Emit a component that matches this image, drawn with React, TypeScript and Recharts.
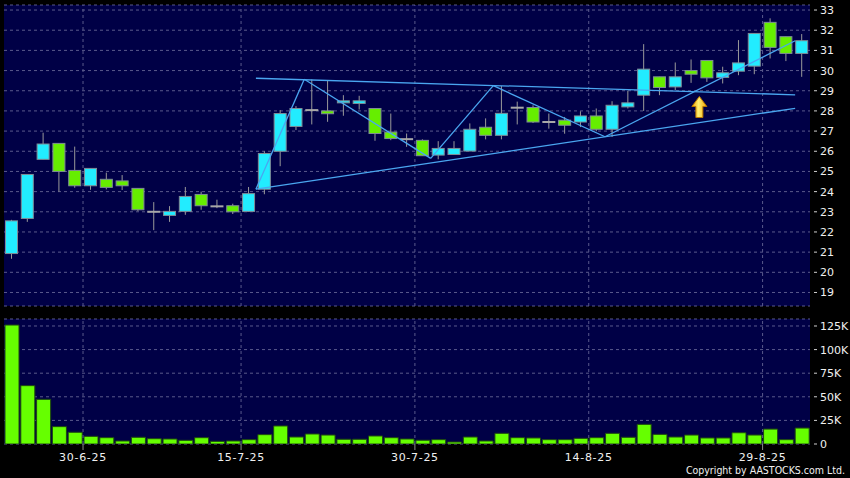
import React from "react";
import {
  ComposedChart,
  Bar,
  XAxis,
  YAxis,
  CartesianGrid,
  ReferenceLine,
  ReferenceDot,
} from "recharts";

// trading days 23-6-25 .. 2-9-25
const dates = [
  "23-6-25", "24-6-25", "25-6-25", "26-6-25", "27-6-25", "30-6-25", "2-7-25", "3-7-25", "4-7-25", "7-7-25",
  "8-7-25", "9-7-25", "10-7-25", "11-7-25", "14-7-25", "15-7-25", "16-7-25", "17-7-25", "18-7-25", "21-7-25",
  "22-7-25", "23-7-25", "24-7-25", "25-7-25", "28-7-25", "29-7-25", "30-7-25", "31-7-25", "1-8-25", "4-8-25",
  "5-8-25", "6-8-25", "7-8-25", "8-8-25", "11-8-25", "12-8-25", "13-8-25", "14-8-25", "15-8-25", "18-8-25",
  "19-8-25", "20-8-25", "21-8-25", "22-8-25", "25-8-25", "26-8-25", "27-8-25", "28-8-25", "29-8-25", "1-9-25",
  "2-9-25",
];

const opens = [
  20.93, 22.67, 25.6, 26.39, 25.05, 24.29, 24.61, 24.53, 24.16, 23.0,
  22.82, 23.02, 23.86, 23.27, 23.3, 23.02, 24.12, 26.0, 27.23, 28.04,
  28.0, 28.4, 28.37, 28.12, 26.95, 26.6, 26.54, 25.81, 25.84, 26.01,
  27.19, 26.79, 28.16, 28.17, 27.45, 27.54, 27.45, 27.75, 27.09, 28.2,
  28.78, 29.69, 29.19, 30.0, 30.5, 29.66, 29.97, 30.22, 32.39, 31.68,
  30.85,
];
const highs = [
  22.6, 24.85, 26.92, 26.4, 26.23, 25.15, 24.94, 24.82, 24.16, 23.48,
  23.28, 24.23, 24.0, 23.6, 23.4, 24.23, 26.0, 28.04, 28.24, 29.56,
  29.5, 28.78, 28.75, 28.12, 27.87, 26.88, 26.59, 26.5, 26.5, 27.38,
  27.63, 29.24, 28.46, 28.28, 27.87, 27.7, 27.98, 28.12, 28.48, 29.0,
  31.31, 29.69, 30.4, 30.55, 30.5, 30.19, 31.51, 31.84, 32.59, 31.68,
  31.81,
];
const lows = [
  20.67, 22.5, 25.6, 24.0, 24.19, 24.09, 24.11, 24.08, 23.03, 22.09,
  22.5, 22.85, 23.1, 23.18, 22.89, 23.0, 23.87, 25.26, 27.05, 27.33,
  27.46, 27.76, 28.07, 26.52, 26.55, 26.22, 25.78, 25.6, 25.84, 26.01,
  26.59, 26.59, 27.33, 27.4, 27.12, 26.87, 27.2, 26.99, 26.71, 28.12,
  28.0, 28.78, 29.03, 29.39, 29.44, 29.36, 29.77, 29.82, 30.6, 30.47,
  29.69,
];
const closes = [
  22.55, 24.85, 26.36, 25.0, 24.29, 25.15, 24.21, 24.29, 23.1, 23.0,
  23.02, 23.76, 23.3, 23.27, 23.0, 23.9, 25.89, 27.87, 28.12, 28.04,
  27.86, 28.5, 28.5, 26.88, 26.63, 26.6, 25.78, 26.14, 26.14, 27.09,
  26.79, 27.88, 28.16, 27.45, 27.45, 27.29, 27.75, 27.09, 28.28, 28.4,
  30.07, 29.16, 29.69, 29.82, 29.64, 29.89, 30.38, 31.84, 31.15, 30.85,
  31.48,
];
const volumes = [
  126000, 61800, 47300, 18400, 12400, 8100, 6700, 3200, 7100, 5600,
  5300, 3900, 6700, 2800, 3200, 4600, 9900, 19100, 7400, 10600,
  9500, 5000, 5000, 8500, 6700, 5300, 4000, 4600, 2100, 7400,
  3200, 11300, 6700, 6400, 4600, 4600, 6000, 6700, 11300, 7100,
  20800, 10200, 7400, 9500, 6400, 6400, 11900, 9500, 15800, 4600,
  16900,
];

// dates shown on the axis (grid sits on the left edge of that day's slot)
const labelDates = ["30-6-25", "15-7-25", "30-7-25", "14-8-25", "29-8-25"];
const priceTicks = [19, 20, 21, 22, 23, 24, 25, 26, 27, 28, 29, 30, 31, 32, 33];
const volumeTicks = [0, 25000, 50000, 75000, 100000, 125000];

// hand-drawn trend lines: [idx, price] pairs
const topLine = [[15.44, 29.62], [49.56, 28.8]];
const baseLine = [[15.44, 24.12], [49.56, 28.13]];
const zigzag = [
  [15.44, 24.12], [18.5, 29.57], [26.5, 25.65], [30.46, 29.25], [37.53, 26.72], [49.56, 31.48],
];
const arrowAt = { idx: 43.5, price: 28.17 };

const rows = dates.map((date, i) => ({
  idx: i,
  date,
  open: opens[i],
  high: highs[i],
  low: lows[i],
  close: closes[i],
  volume: volumes[i],
}));

const dateTicks = labelDates.map((d) => dates.indexOf(d) - 0.5);

const NAVY = "#000046";
const GRID = "#5a5a8c";
const FONT = "'DejaVu Sans', Verdana, sans-serif";
const LINE = "#4aa6f0";

function Candle(props: any) {
  const { x, y, width, height, payload } = props;
  const { open, close, high, low } = payload;
  const top = Math.min(y, y + height);
  const span = Math.abs(height);
  const per = high === low ? 0 : span / (high - low);
  const py = (v: number) => top + (high - v) * per;
  const cx = x + width / 2;
  const bodyTop = py(Math.max(open, close));
  const bodyBot = py(Math.min(open, close));
  const flat = open === close;
  const fill = close > open ? "#22ecff" : "#66ee00";
  return (
    <g>
      <line x1={cx} x2={cx} y1={py(high)} y2={py(low)} stroke="#9a9a9a" strokeWidth={1} />
      {flat ? (
        <line x1={x} x2={x + width} y1={bodyTop} y2={bodyTop} stroke="#a8a8a8" strokeWidth={2} />
      ) : (
        <rect
          x={x + 0.5}
          y={bodyTop}
          width={width - 1}
          height={Math.max(bodyBot - bodyTop, 1.5)}
          fill={fill}
          stroke="#7f8c96"
          strokeWidth={1}
        />
      )}
    </g>
  );
}

function Arrow({ cx, cy }: any) {
  if (cx == null || cy == null) return null;
  const pts = [
    [cx, cy - 11],
    [cx + 7.5, cy - 1],
    [cx + 3.5, cy - 1],
    [cx + 3.5, cy + 10],
    [cx - 3.5, cy + 10],
    [cx - 3.5, cy - 1],
    [cx - 7.5, cy - 1],
  ]
    .map((p) => p.join(","))
    .join(" ");
  return <polygon points={pts} fill="url(#goldArrow)" stroke="#b87800" strokeWidth={1} />;
}

function RightTick({ x, y, payload, fmt }: any) {
  return (
    <g>
      <line x1={x - 4} x2={x - 1} y1={y} y2={y} stroke="#d0d0d0" strokeWidth={1} />
      <text x={x + 2} y={y} dy="0.36em" fill="#f0f0f0" fontSize={11} fontFamily={FONT}>
        {fmt ? fmt(payload.value) : payload.value}
      </text>
    </g>
  );
}

const fmtVolume = (v: number) => (v === 0 ? "0" : `${v / 1000}K`);
const fmtDate = (v: number) => dates[Math.round(v + 0.5)] ?? "";

// vertical dashed grid at the date ticks, through the x scale
const dateGrid = (prefix: string) =>
  dateTicks.map((t) => (
    <ReferenceLine key={`${prefix}-${t}`} x={t} stroke={GRID} strokeDasharray="3 3" />
  ));

export default function App() {
  return (
    <div style={{ position: "absolute", left: 0, top: 0, width: 850, height: 478, background: "#000", overflow: "hidden" }}>
      <div style={{ position: "absolute", left: 0, top: 0 }}>
        <ComposedChart width={850} height={312} data={rows} margin={{ top: 5, right: 0, bottom: 6, left: 4 }}>
          <defs>
            <linearGradient id="goldArrow" x1="0" y1="0" x2="1" y2="0">
              <stop offset="0%" stopColor="#f0a000" />
              <stop offset="45%" stopColor="#fff070" />
              <stop offset="100%" stopColor="#f0a000" />
            </linearGradient>
          </defs>
          <CartesianGrid fill={NAVY} stroke={GRID} strokeDasharray="3 3" vertical={false} />
          <XAxis dataKey="idx" type="number" domain={[-0.5, 50.5]} ticks={dateTicks} hide />
          <YAxis
            orientation="right"
            domain={[18.33, 33.25]}
            ticks={priceTicks}
            interval={0}
            width={40}
            axisLine={false}
            tickLine={false}
            tickSize={6}
            tickMargin={2}
            tick={<RightTick />}
            allowDataOverflow
          />
          {dateGrid("p")}
          <Bar dataKey={(d: any) => [d.low, d.high]} barSize={13} shape={<Candle />} isAnimationActive={false} />
          <ReferenceLine
            segment={topLine.map(([x, y]) => ({ x, y }))}
            stroke={LINE}
            strokeWidth={1.3}
          />
          <ReferenceLine
            segment={baseLine.map(([x, y]) => ({ x, y }))}
            stroke={LINE}
            strokeWidth={1.3}
          />
          {zigzag.slice(1).map(([x, y], i) => (
            <ReferenceLine
              key={`zz-${i}`}
              segment={[{ x: zigzag[i][0], y: zigzag[i][1] }, { x, y }]}
              stroke={LINE}
              strokeWidth={1.3}
            />
          ))}
          <ReferenceDot x={arrowAt.idx} y={arrowAt.price} r={8} shape={(p: any) => <Arrow {...p} />} />
        </ComposedChart>
      </div>
      <div style={{ position: "absolute", left: 0, top: 312 }}>
        <ComposedChart width={850} height={166} data={rows} margin={{ top: 7, right: 0, bottom: 12, left: 4 }}>
          <CartesianGrid fill={NAVY} stroke={GRID} strokeDasharray="3 3" vertical={false} />
          <XAxis
            dataKey="idx"
            type="number"
            domain={[-0.5, 50.5]}
            ticks={dateTicks}
            interval={0}
            tickFormatter={fmtDate}
            axisLine={false}
            tickLine={{ stroke: "#8a8a8a" }}
            tickSize={6}
            tickMargin={3}
            height={22}
            tick={{ fill: "#f0f0f0", fontSize: 11, fontFamily: FONT, letterSpacing: 0.7 }}
          />
          <YAxis
            orientation="right"
            domain={[0, 132400]}
            ticks={volumeTicks}
            interval={0}
            width={40}
            axisLine={false}
            tickLine={false}
            tickSize={6}
            tickMargin={2}
            tick={<RightTick fmt={fmtVolume} />}
            allowDataOverflow
          />
          {dateGrid("v")}
          <Bar dataKey="volume" barSize={14} fill="#66ff00" stroke="#1f4a10" strokeWidth={1} isAnimationActive={false} />
        </ComposedChart>
      </div>
      <div
        style={{
          position: "absolute",
          right: 5,
          top: 464,
          color: "#f0f0f0",
          fontFamily: "'DejaVu Sans Condensed', 'DejaVu Sans', sans-serif",
          fontSize: 10.5,
          lineHeight: "13px",
          whiteSpace: "nowrap",
        }}
      >
        Copyright by AASTOCKS.com Ltd.
      </div>
    </div>
  );
}
